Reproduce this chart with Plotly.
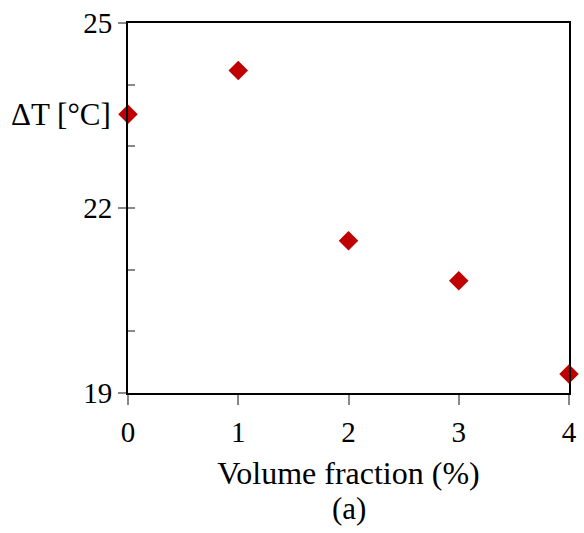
import plotly.graph_objects as go

volume_fraction = [0, 1, 2, 3, 4]
delta_t = [23.52, 24.23, 21.47, 20.82, 19.31]
x_ticks = [0, 1, 2, 3, 4]
y_ticks = [19, 22, 25]

FONT = "Liberation Serif"

fig = go.Figure()
fig.add_trace(go.Scatter(
    x=volume_fraction, y=delta_t, mode="markers",
    marker=dict(symbol="diamond", size=15, color="#c00000"),
    cliponaxis=False, showlegend=False,
))

fig.update_layout(
    width=584, height=533,
    margin=dict(l=128, r=7, t=20, b=140),
    plot_bgcolor="white", paper_bgcolor="white",
    font=dict(family=FONT, size=29, color="black"),
    xaxis=dict(
        range=[0, 4], tickvals=x_ticks, ticks="outside", ticklen=10,
        tickcolor="#888888", tickwidth=1.5,
        showline=True, linecolor="black", linewidth=2, mirror=True,
        showgrid=False, zeroline=False,
        tickfont=dict(size=29, family=FONT), ticklabelstandoff=2,
        title=dict(text="Volume fraction (%)", font=dict(size=32, family=FONT), standoff=15),
    ),
    yaxis=dict(
        range=[19, 25], tickvals=y_ticks, ticks="outside", ticklen=8,
        tickcolor="#888888", tickwidth=1.5,
        showline=True, linecolor="black", linewidth=2, mirror=True,
        showgrid=False, zeroline=False,
        tickfont=dict(size=29, family=FONT),
        minor=dict(tickvals=[20, 21, 22, 23, 24], ticks="inside", ticklen=7,
                   tickcolor="#888888", tickwidth=1.5, showgrid=False),
    ),
    annotations=[
        dict(text="ΔT [°C]", xref="paper", yref="y", x=-0.034, y=23.52,
             xanchor="right", yanchor="middle", showarrow=False,
             font=dict(size=31, family=FONT)),
        dict(text="(a)", xref="paper", yref="paper", x=0.5, y=-0.313,
             xanchor="center", yanchor="middle", showarrow=False,
             font=dict(size=31, family=FONT)),
    ],
)

fig.write_html("out.html")
